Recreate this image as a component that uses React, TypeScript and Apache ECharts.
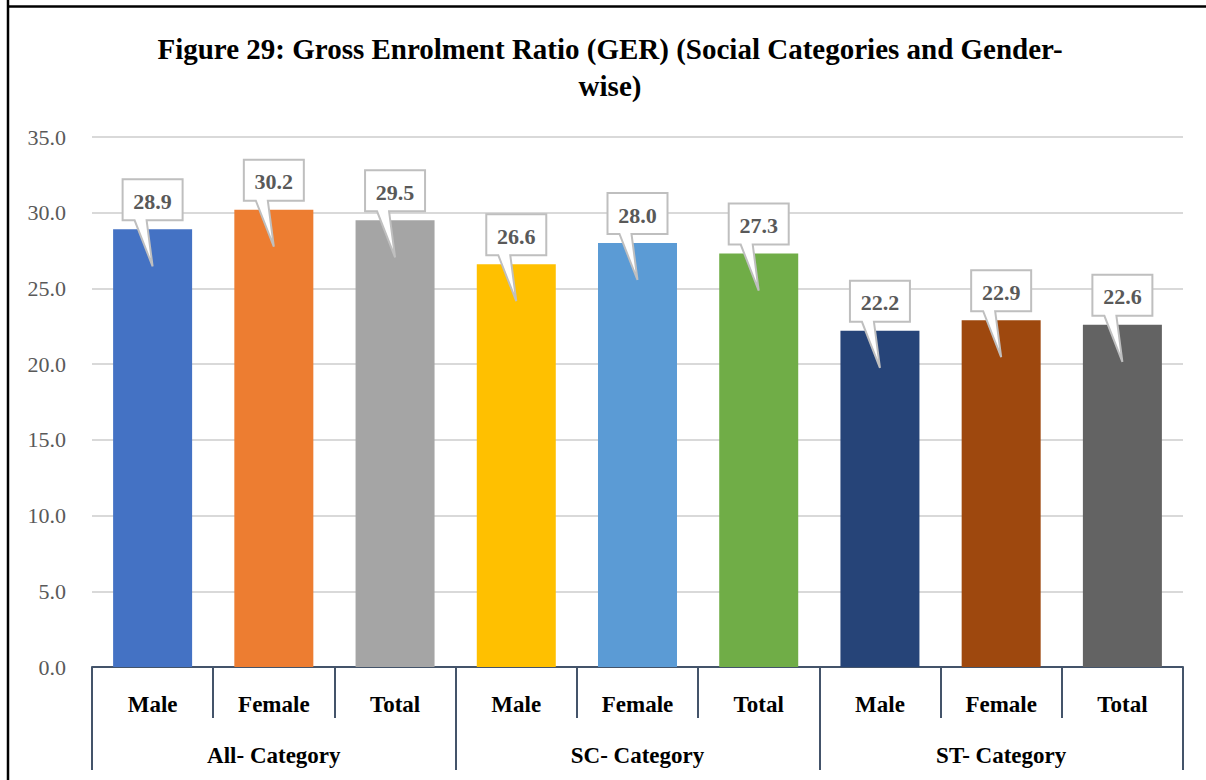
import React, { useEffect, useRef } from "react";
import * as echarts from "echarts";

const categories = ["Male", "Female", "Total", "Male", "Female", "Total", "Male", "Female", "Total"];
const groups = ["All- Category", "SC- Category", "ST- Category"];
const values = [28.9, 30.2, 29.5, 26.6, 28.0, 27.3, 22.2, 22.9, 22.6];
const barColors = ["#4472c4", "#ed7d31", "#a5a5a5", "#ffc000", "#5b9bd5", "#70ad47", "#264478", "#9e480e", "#636363"];
const titleText = "Figure 29: Gross Enrolment Ratio (GER) (Social Categories and Gender-\nwise)";

const FONT = "'Liberation Serif', 'Times New Roman', serif";
const AXIS_COLOR = "#44546a";

export default function App() {
  const ref = useRef<HTMLDivElement>(null);
  useEffect(() => {
    if (!ref.current) return;
    const chart = echarts.init(ref.current, undefined, { renderer: "svg" });
    chart.setOption({
      animation: false,
      backgroundColor: "#ffffff",
      grid: { left: 92, right: 23, top: 137, bottom: 113, containLabel: false },
      graphic: [
        { type: "line", shape: { x1: 8, y1: 0, x2: 8, y2: 780 }, style: { stroke: "#000", lineWidth: 2.5 } },
        { type: "line", shape: { x1: 7, y1: 6.5, x2: 1206, y2: 6.5 }, style: { stroke: "#000", lineWidth: 2.5 } },
        {
          type: "text",
          x: 610,
          y: 30,
          style: {
            text: titleText,
            fontFamily: FONT,
            fontSize: 29,
            fontWeight: "bold",
            lineHeight: 37,
            fill: "#000",
            align: "center",
            verticalAlign: "top",
          },
        },
      ],
      xAxis: [
        {
          type: "category",
          position: "bottom",
          data: categories,
          axisLine: { show: true, lineStyle: { color: AXIS_COLOR, width: 2 } },
          axisTick: { show: true, interval: 0, length: 51, lineStyle: { color: AXIS_COLOR, width: 2 } },
          axisLabel: {
            interval: 0,
            margin: 37,
            verticalAlign: "middle",
            fontFamily: FONT,
            fontSize: 23,
            fontWeight: "bold",
            color: "#000",
          },
          splitLine: { show: false },
        },
        {
          type: "category",
          position: "bottom",
          data: groups,
          axisLine: { show: false },
          axisTick: { show: true, interval: 0, length: 103, lineStyle: { color: AXIS_COLOR, width: 2 } },
          axisLabel: {
            interval: 0,
            margin: 88,
            verticalAlign: "middle",
            fontFamily: FONT,
            fontSize: 23,
            fontWeight: "bold",
            color: "#000",
          },
          splitLine: { show: false },
        },
      ],
      yAxis: {
        type: "value",
        min: 0,
        max: 35,
        interval: 5,
        axisLine: { show: false },
        axisTick: { show: false },
        axisLabel: {
          margin: 26,
          fontFamily: FONT,
          fontSize: 22,
          color: "#595959",
          formatter: (v: number) => v.toFixed(1),
        },
        splitLine: { show: true, lineStyle: { color: "#d9d9d9", width: 2 } },
      },
      series: [
        {
          type: "bar",
          xAxisIndex: 0,
          yAxisIndex: 0,
          barWidth: 79,
          data: values.map((v, i) => ({ value: v, itemStyle: { color: barColors[i] } })),
          z: 2,
        },
        {
          type: "custom",
          xAxisIndex: 0,
          yAxisIndex: 0,
          z: 5,
          data: values.map((v, i) => [i, v]),
          encode: { x: 0, y: 1 },
          renderItem: (params: any, api: any) => {
            const idx = api.value(0);
            const val = api.value(1);
            const p = api.coord([idx, val]);
            const cx = p[0];
            const top = p[1];
            const bTop = top - 50;
            const bBot = top - 9;
            const tipY = top + 37;
            const hw = 30;
            return {
              type: "group",
              children: [
                {
                  type: "polygon",
                  shape: {
                    points: [
                      [cx - hw, bTop],
                      [cx + hw, bTop],
                      [cx + hw, bBot],
                      [cx - 6, bBot],
                      [cx, tipY],
                      [cx - 18, bBot],
                      [cx - hw, bBot],
                    ],
                  },
                  style: { fill: "#ffffff", stroke: "#bfbfbf", lineWidth: 2, lineJoin: "miter" },
                },
                {
                  type: "text",
                  x: cx,
                  y: top - 28,
                  style: {
                    text: val.toFixed(1),
                    fontFamily: FONT,
                    fontSize: 22,
                    fontWeight: "bold",
                    fill: "#595959",
                    align: "center",
                    verticalAlign: "middle",
                  },
                },
              ],
            };
          },
        },
      ],
    });
    return () => chart.dispose();
  }, []);
  return <div ref={ref} style={{ position: "fixed", left: 0, top: 0, width: 1206, height: 780 }} />;
}
